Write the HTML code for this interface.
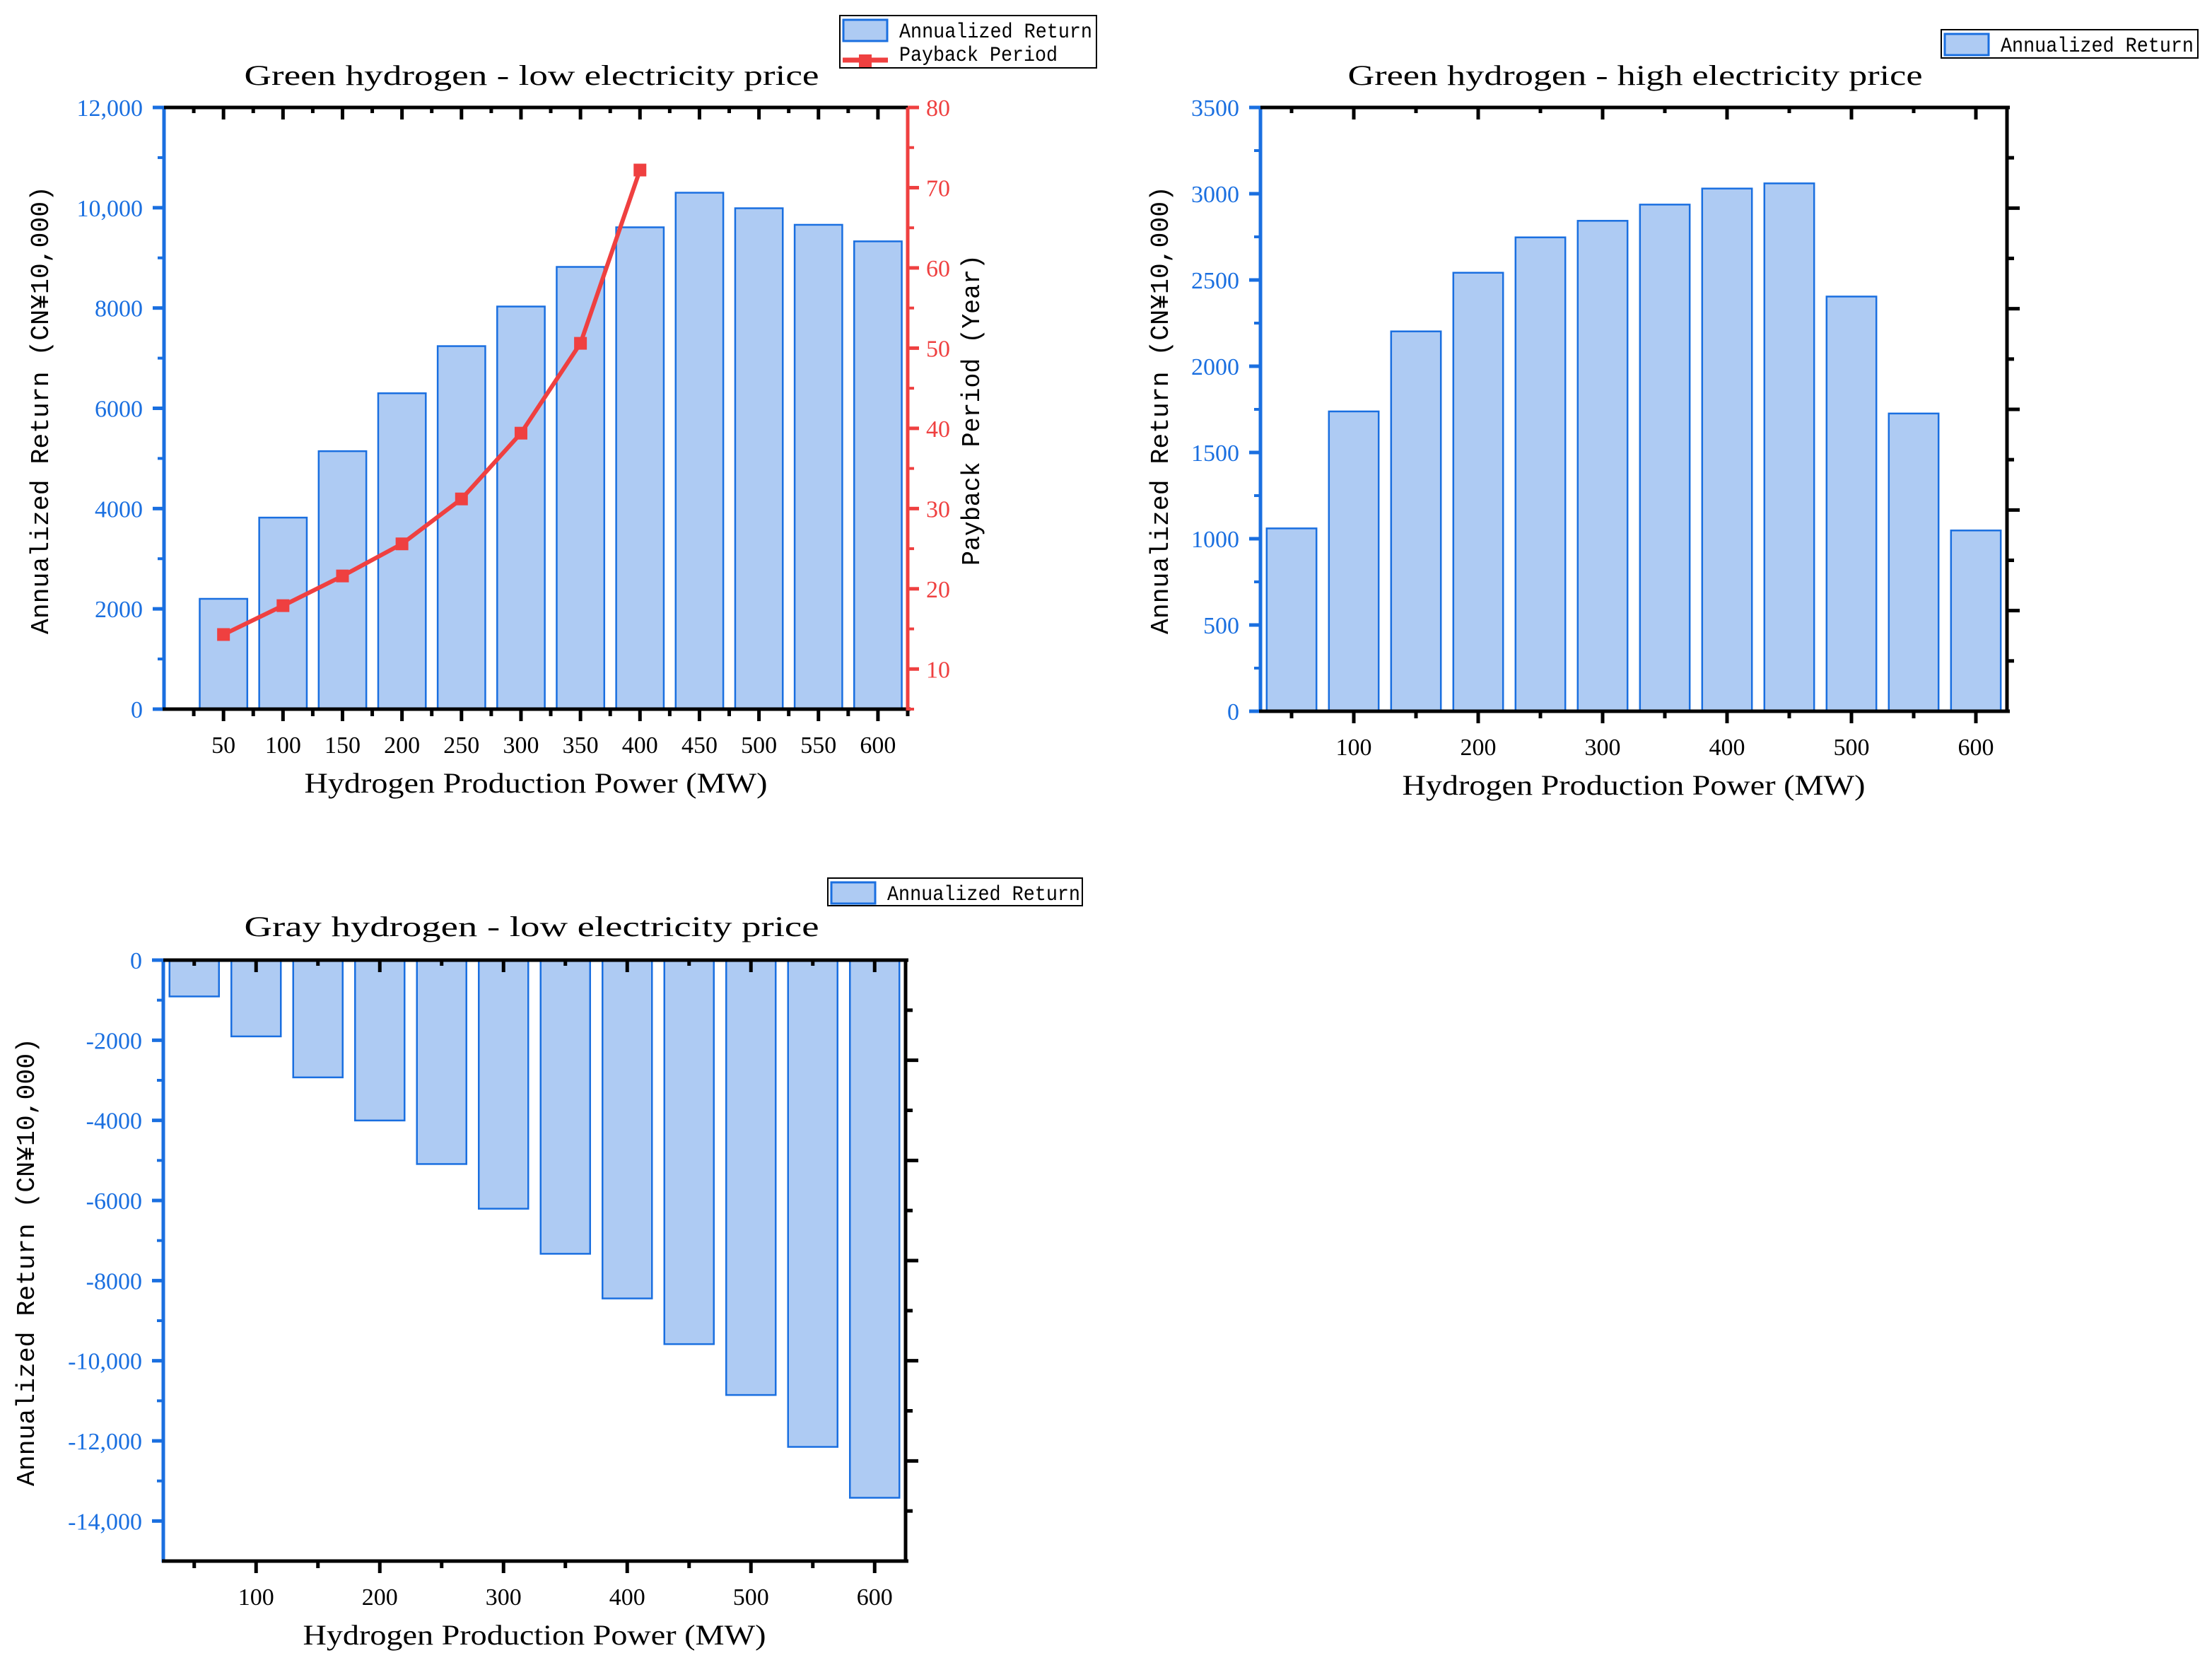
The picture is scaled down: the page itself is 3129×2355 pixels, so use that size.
<!DOCTYPE html>
<html><head><meta charset="utf-8">
<style>
html,body{margin:0;padding:0;background:#fff;}
svg{display:block;}
text{font-family:"Liberation Serif","Noto Serif CJK SC",serif;}
.mono{font-family:"Liberation Mono","Noto Sans CJK SC",monospace;}
</style></head>
<body>
<svg id="fig" width="3129" height="2355" viewBox="0 0 3129 2355" xmlns="http://www.w3.org/2000/svg"></svg>
<script>
// ---- data ----
const cats1 = [50,100,150,200,250,300,350,400,450,500,550,600];
const returnsLow = [2200,3820,5145,6300,7240,8030,8820,9610,10300,9990,9660,9330];
const payback = [14.3,17.9,21.6,25.6,31.2,39.4,50.6,72.2];
const yTicks1 = [0,2000,4000,6000,8000,10000,12000];
const yTickLabels1 = ["0","2000","4000","6000","8000","10,000","12,000"];
const rTicks1 = [10,20,30,40,50,60,70,80];
const xTickLabels1 = ["50","100","150","200","250","300","350","400","450","500","550","600"];

const cats2 = [50,100,150,200,250,300,350,400,450,500,550,600];
const returnsHigh = [1060,1738,2202,2542,2747,2843,2937,3030,3060,2404,1726,1048];
const yTicks2 = [0,500,1000,1500,2000,2500,3000,3500];
const yTickLabels2 = ["0","500","1000","1500","2000","2500","3000","3500"];
const xTicks2 = [100,200,300,400,500,600];

const cats3 = [50,100,150,200,250,300,350,400,450,500,550,600];
const returnsGray = [-907,-1904,-2927,-4003,-5090,-6205,-7330,-8445,-9585,-10855,-12150,-13420];
const yTicks3 = [0,-2000,-4000,-6000,-8000,-10000,-12000,-14000];
const yTickLabels3 = ["0","-2000","-4000","-6000","-8000","-10,000","-12,000","-14,000"];
const xTicks3 = [100,200,300,400,500,600];

const NS = "http://www.w3.org/2000/svg";
const svg = document.getElementById('fig');
const BLUE = "#1a6fe0", FILL = "#aecbf3", RED = "#ef4040";
function mk(tag, attrs, parent, txt){
  const e = document.createElementNS(NS, tag);
  for (const k in attrs) e.setAttribute(k, attrs[k]);
  if (txt !== undefined) e.textContent = txt;
  (parent || svg).appendChild(e);
  return e;
}
function line(g,x1,y1,x2,y2,c,w){ return mk('line',{x1,y1,x2,y2,stroke:c,'stroke-width':w},g); }

function chart(o){
  const g = mk('g',{});
  
  
  const sx = v => o.L + (v - o.xmin) / (o.xmax - o.xmin) * (o.R - o.L);
  const sy = v => o.B - (v - o.ymin) / (o.ymax - o.ymin) * (o.B - o.T);
  const step = (sx(50) - sx(0));
  const zeroY = sy(Math.max(o.ymin, Math.min(0, o.ymax)));
  o.cats.forEach((c,i)=>{
    const x = sx(c) - step*0.4, w = step*0.8;
    const y1 = sy(o.vals[i]);
    const r = mk('rect',{x:x, y:Math.min(y1,zeroY), width:w, height:Math.abs(zeroY-y1), fill:FILL, stroke:BLUE, 'stroke-width':2.5}, g);
    
    
  });
  const la = line(g,o.L,o.T,o.L,o.B+2,BLUE,5);
  
  
  o.yTicks.forEach((v,i)=>{
    const y = sy(v);
    line(g,o.L-16,y,o.L,y,BLUE,5);
    const t = mk('text',{x:o.L-30,y:y+12,'font-size':34,fill:BLUE,'text-anchor':'end'},g,o.yLabels[i]);
    
    
    if (i < o.yTicks.length-1){
      const ym = sy((v + o.yTicks[i+1])/2);
      line(g,o.L-9,ym,o.L,ym,BLUE,4);
    }
  });
  line(g,o.L-2,o.B,o.R+4,o.B,'#000',5);
  line(g,o.L,o.T,o.R+4,o.T,'#000',5);
  const ba = mk('line',{x1:o.L,y1:o.B,x2:o.R,y2:o.B,stroke:'none'},g);
  
  
  for (let v = o.minorStart; v <= o.xmax; v += o.minorStep){
    const x = sx(v);
    const major = o.xMajor.includes(v);
    line(g,x,o.B,x,o.B+(major?17:10),'#000',5);
    if (o.topTicks) line(g,x,o.T,x,o.T+(major?17:8),'#000',5);
  }
  o.xMajor.forEach((v,i)=>{
    const t = mk('text',{x:sx(v),y:o.B+62,'font-size':34,fill:'#000','text-anchor':'middle'},g,o.xLabels[i]);
    
    
  });
  if (o.rightBlack){
    line(g,o.R,o.T,o.R,o.B+2,'#000',5);
    for (let k=1;k<12;k++){
      const y = o.T + (o.B-o.T)*k/12;
      line(g,o.R,y,o.R+(k%2===0?18:10),y,'#000',5);
    }
  }
  const tt = mk('text',{x:o.titleX,y:o.titleY,'font-size':40,'text-anchor':'middle',textLength:813,lengthAdjust:'spacingAndGlyphs'},g,o.title);
  
  
  const xt = mk('text',{x:(o.L+o.R)/2,y:o.B+118,'font-size':40,'text-anchor':'middle',textLength:655,lengthAdjust:'spacingAndGlyphs'},g,'Hydrogen Production Power (MW)');
  
  
  const yt = mk('text',{x:0,y:0,'font-size':36,'text-anchor':'middle',class:'mono',textLength:634,lengthAdjust:'spacingAndGlyphs',transform:`translate(${o.yTitleX},${o.yTitleY}) rotate(-90)`},g,'Annualized Return (CN¥10,000)');
  
  
  return {g,sx,sy};
}

function legend(x,y,w,h,withLine){
  const g = mk('g',{});
  
  
  mk('rect',{x,y,width:w,height:h,fill:'#fff',stroke:'#000','stroke-width':2},g);
  mk('rect',{x:x+5,y:y+6,width:62,height:30,fill:FILL,stroke:BLUE,'stroke-width':3},g);
  const t = mk('text',{x:x+84,y:y+31,'font-size':30,class:'mono',textLength:273,lengthAdjust:'spacingAndGlyphs'},g,'Annualized Return');
  
  
  if (withLine){
    line(g,x+4,y+63,x+68,y+63,RED,7);
    mk('rect',{x:x+27,y:y+55,width:18,height:18,fill:RED},g);
    const t2 = mk('text',{x:x+84,y:y+64,'font-size':30,class:'mono',textLength:224,lengthAdjust:'spacingAndGlyphs'},g,'Payback Period');
    
    
  }
}

// ---- chart 1 ----
const c1 = chart({name:'chart-green-low',L:232,R:1284,T:152,B:1003,xmin:0,xmax:625,ymin:0,ymax:12000,
  cats:cats1,vals:returnsLow,yTicks:yTicks1,yLabels:yTickLabels1,xMajor:cats1,xLabels:xTickLabels1,
  minorStart:25,minorStep:25,topTicks:true,title:'Green hydrogen - low electricity price',titleX:752,titleY:120,
  yTitleX:68,yTitleY:580});
(function(){
  const g = c1.g, R = 1284, T = 152, B = 1003;
  const sr = v => B - (v - 5) / (80 - 5) * (B - T);
  const ra = line(g,R,T,R,B+2,RED,5);
  
  
  rTicks1.forEach(v=>{
    line(g,R,sr(v),R+16,sr(v),RED,5);
    line(g,R,sr(v-5),R+9,sr(v-5),RED,4);
    const t = mk('text',{x:R+26,y:sr(v)+12,'font-size':34,fill:RED},g,String(v));
    
    
  });
  const rt = mk('text',{x:0,y:0,'font-size':36,'text-anchor':'middle',class:'mono',textLength:440,lengthAdjust:'spacingAndGlyphs',transform:`translate(1385,580) rotate(-90)`},g,'Payback Period (Year)');
  
  
  const pts = payback.map((v,i)=>[c1.sx(cats1[i]), sr(v)]);
  const pl = mk('polyline',{points:pts.map(p=>p.join(',')).join(' '),fill:'none',stroke:RED,'stroke-width':6,'stroke-linejoin':'round'},g);
  
  
  pts.forEach(p=>{
    const m = mk('rect',{x:p[0]-9,y:p[1]-9,width:18,height:18,fill:RED},g);
    
    
  });
})();
legend(1188,22,363,74,true);

// ---- chart 2 ----
chart({name:'chart-green-high',L:1783,R:2839,T:152,B:1006,xmin:25,xmax:625,ymin:0,ymax:3500,
  cats:cats2,vals:returnsHigh,yTicks:yTicks2,yLabels:yTickLabels2,xMajor:xTicks2,xLabels:xTicks2.map(String),
  minorStart:50,minorStep:50,topTicks:true,rightBlack:true,title:'Green hydrogen - high electricity price',titleX:2313,titleY:120,
  yTitleX:1652,yTitleY:580});
legend(2746,42,363,40,false);

// ---- chart 3 ----
chart({name:'chart-gray-low',L:231,R:1281,T:1358,B:2208,xmin:25,xmax:625,ymin:-15000,ymax:0,
  cats:cats3,vals:returnsGray,yTicks:yTicks3,yLabels:yTickLabels3,xMajor:xTicks3,xLabels:xTicks3.map(String),
  minorStart:50,minorStep:50,topTicks:true,rightBlack:true,title:'Gray hydrogen - low electricity price',titleX:752,titleY:1324,
  yTitleX:48,yTitleY:1785});
legend(1171,1242,360,39,false);
</script>
</body></html>
